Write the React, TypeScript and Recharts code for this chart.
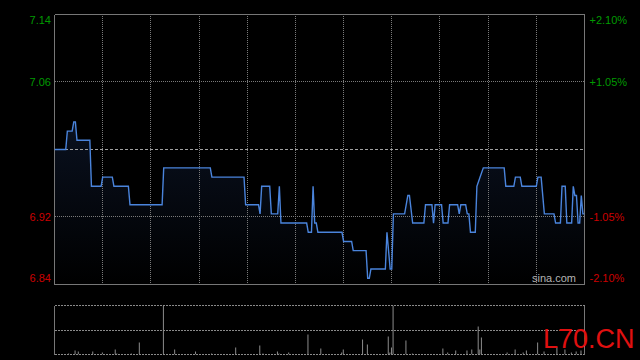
import React from 'react';
import { ComposedChart, Area, Line, Bar, XAxis, YAxis, ReferenceLine } from 'recharts';

const PREV_CLOSE = 6.99;
const pctTicks = [0.021, 0.0105, 0, -0.0105, -0.021];
const leftTickLabels = ['7.14', '7.06', '', '6.92', '6.84'];
const rightTickLabels = ['+2.10%', '+1.05%', '', '-1.05%', '-2.10%'];
const gridMinutes = [30, 60, 90, 120, 150, 180, 210, 240, 270, 300];
const SESSION_END = 330;

const priceMinutes = [
  0, 7, 8, 11, 12, 13, 14, 22, 23, 29, 30, 36, 37, 46, 47, 67, 68, 97, 98, 118,
  119, 127, 128, 129, 134, 135, 139, 140, 141, 157, 158, 160, 161, 162, 163, 164, 179, 180, 185, 186,
  194, 195, 196, 197, 206, 207, 209, 210, 211, 218, 220, 221, 223, 230, 231, 235, 236, 237, 241, 242,
  245, 246, 251, 252, 253, 256, 257, 258, 259, 262, 263, 265, 267, 280, 281, 286, 287, 290, 291, 300,
  301, 303, 305, 311, 312, 315, 316, 318, 319, 322, 323, 324, 325, 326, 327, 328, 329, 330,
];
const priceValues = [
  6.99, 6.99, 7.01, 7.01, 7.02, 7.02, 7.0, 7.0, 6.95, 6.95, 6.96, 6.96, 6.95, 6.95, 6.93, 6.93, 6.97, 6.97, 6.96, 6.96,
  6.93, 6.93, 6.92, 6.95, 6.95, 6.92, 6.92, 6.95, 6.91, 6.91, 6.9, 6.9, 6.95, 6.91, 6.91, 6.9, 6.9, 6.89, 6.89, 6.88,
  6.88, 6.85, 6.85, 6.86, 6.86, 6.9, 6.86, 6.86, 6.92, 6.92, 6.94, 6.94, 6.91, 6.91, 6.93, 6.93, 6.91, 6.93, 6.93, 6.91,
  6.91, 6.93, 6.93, 6.92, 6.93, 6.93, 6.92, 6.92, 6.9, 6.9, 6.95, 6.96, 6.97, 6.97, 6.95, 6.95, 6.96, 6.96, 6.95, 6.95,
  6.96, 6.96, 6.92, 6.92, 6.91, 6.91, 6.95, 6.95, 6.91, 6.91, 6.95, 6.94, 6.94, 6.91, 6.91, 6.94, 6.92, 6.92,
];

const volMinutes = [
  9, 13, 15, 24, 30, 38, 39, 48, 53, 68, 75, 88, 98, 113, 128, 130, 139, 140, 146, 158,
  166, 179, 180, 192, 195, 208, 209, 210, 211, 219, 223, 242, 245, 250, 257, 260, 264, 265, 266, 282,
  287, 292, 294, 301, 305, 313, 318, 322, 325, 328,
];
const volValues = [
  1, 4, 3, 3, 2, 5, 1, 1, 12, 49, 5, 3, 1, 7, 9, 1, 3, 1, 2, 20,
  6, 2, 5, 15, 10, 18, 2, 7, 49, 14, 1, 6, 2, 4, 4, 5, 28, 5, 17, 2,
  5, 2, 4, 12, 3, 7, 5, 2, 3, 4,
];
const VOL_MAX = 49;

const priceData = priceMinutes.map((t, i) => ({ t, price: priceValues[i] }));
const volData = volMinutes.map((t, i) => ({ t, vol: volValues[i] }));

const tickValues = pctTicks.map((p) => PREV_CLOSE * (1 + p));
const LO = tickValues[tickValues.length - 1];
const HI = tickValues[0];

const GREEN = '#009a00';
const RED = '#cc0000';
const FONT = 'Arial, "Liberation Sans", sans-serif';

const pickIdx = (v: number) => {
  let best = 0;
  tickValues.forEach((tv, i) => {
    if (Math.abs(tv - v) < Math.abs(tickValues[best] - v)) best = i;
  });
  return best;
};
const tickShift = (i: number) => (i === 0 ? 5.5 : i === pctTicks.length - 1 ? -6.5 : -0.3);

const LeftTick = (props: any) => {
  const { y, payload } = props;
  const i = pickIdx(payload.value);
  const label = leftTickLabels[i];
  if (!label) return <g />;
  return (
    <text x={51} y={y + tickShift(i)} dy="0.36em" textAnchor="end" fill={pctTicks[i] > 0 ? GREEN : RED} fontSize={11} fontFamily={FONT}>
      {label}
    </text>
  );
};

const RightTick = (props: any) => {
  const { y, payload } = props;
  const i = pickIdx(payload.value);
  const label = rightTickLabels[i];
  if (!label) return <g />;
  return (
    <text x={589.5} y={y + tickShift(i)} dy="0.36em" textAnchor="start" fill={pctTicks[i] > 0 ? GREEN : RED} fontSize={11} fontFamily={FONT}>
      {label}
    </text>
  );
};

const snap = (v: number) => Math.floor(v) + 0.5;

const crispLine = (color: string, dash?: string) => (p: any) => (
  <line
    x1={snap(p.x1)}
    y1={snap(p.y1)}
    x2={snap(p.x2)}
    y2={snap(p.y2)}
    stroke={color}
    strokeWidth={1}
    strokeDasharray={dash}
    shapeRendering="crispEdges"
  />
);

export default function App() {
  return (
    <div style={{ position: 'absolute', left: 0, top: 0, width: 640, height: 360, background: '#000', overflow: 'hidden', fontFamily: FONT }}>
      <div style={{ position: 'absolute', left: 0, top: 0 }}>
        <ComposedChart width={640} height={300} data={priceData} margin={{ top: 14.5, right: 0, bottom: 15.5, left: 0 }}>
          <defs>
            <linearGradient id="priceFill" x1="0" y1="0" x2="0" y2="1">
              <stop offset="0%" stopColor="#101c34" stopOpacity={1} />
              <stop offset="100%" stopColor="#000000" stopOpacity={1} />
            </linearGradient>
          </defs>
          <XAxis type="number" dataKey="t" domain={[0, SESSION_END]} hide allowDataOverflow />
          <YAxis yAxisId="left" orientation="left" width={54.5} domain={[LO, HI]} ticks={tickValues} tick={<LeftTick />} axisLine={false} tickLine={false} allowDataOverflow />
          <YAxis yAxisId="right" orientation="right" width={55.5} domain={[LO, HI]} ticks={tickValues} tick={<RightTick />} axisLine={false} tickLine={false} allowDataOverflow />
          <Area yAxisId="left" type="linear" dataKey="price" stroke="none" fill="url(#priceFill)" isAnimationActive={false} />
          {gridMinutes.map((m) => (
            <ReferenceLine key={'g' + m} yAxisId="left" x={m} shape={crispLine('#7a7a7a', '1 1')} />
          ))}
          <ReferenceLine yAxisId="left" y={tickValues[1]} shape={crispLine('#7a7a7a', '1 1')} />
          <ReferenceLine yAxisId="left" y={tickValues[3]} shape={crispLine('#7a7a7a', '1 1')} />
          <ReferenceLine yAxisId="left" y={PREV_CLOSE} shape={crispLine('#a0a0a0', '3 2')} />
          <ReferenceLine yAxisId="left" x={0} shape={crispLine('#777')} />
          <ReferenceLine yAxisId="left" x={SESSION_END} shape={crispLine('#777')} />
          <ReferenceLine yAxisId="left" y={HI} shape={crispLine('#777')} />
          <ReferenceLine yAxisId="left" y={LO} shape={crispLine('#777')} />
          <Line yAxisId="left" type="linear" dataKey="price" stroke="#4a84dc" strokeWidth={1.4} dot={false} activeDot={false} isAnimationActive={false} />
        </ComposedChart>
      </div>
      <div style={{ position: 'absolute', left: 0, top: 300 }}>
        <ComposedChart width={640} height={60} data={volData} margin={{ top: 5.5, right: 55.5, bottom: 5.5, left: 54.5 }}>
          <XAxis type="number" dataKey="t" domain={[0, SESSION_END]} hide allowDataOverflow />
          <YAxis type="number" domain={[0, VOL_MAX]} hide allowDataOverflow />
          <ReferenceLine y={VOL_MAX} shape={crispLine('#8a8a8a', '2 1')} />
          <ReferenceLine y={VOL_MAX / 2} shape={crispLine('#8a8a8a', '2 1')} />
          <ReferenceLine y={0} shape={crispLine('#8a8a8a', '2 1')} />
          <ReferenceLine x={0} shape={crispLine('#777')} />
          <ReferenceLine x={SESSION_END} shape={crispLine('#777')} />
          <Bar dataKey="vol" fill="#8c8c8c" barSize={1} isAnimationActive={false} />
        </ComposedChart>
      </div>
      <div style={{ position: 'absolute', left: 532, top: 273, fontSize: 11, lineHeight: '11px', color: '#b4b4b4', whiteSpace: 'nowrap' }}>sina.com</div>
      <div style={{ position: 'absolute', left: 543, top: 325.7, fontSize: 27, lineHeight: '27px', color: '#e01010', whiteSpace: 'nowrap' }}>L70.CN</div>
    </div>
  );
}
